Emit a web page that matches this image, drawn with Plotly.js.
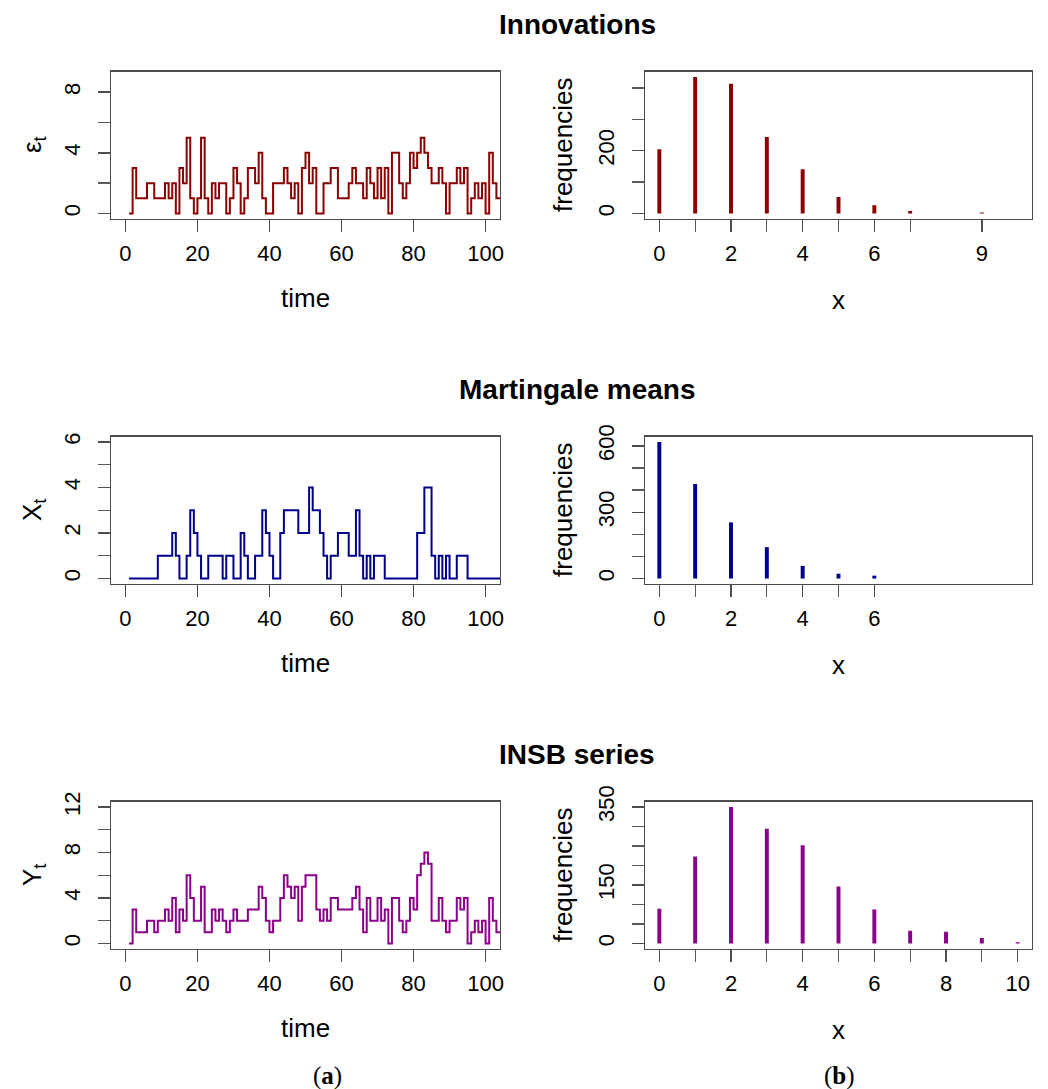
<!DOCTYPE html>
<html>
<head>
<meta charset="utf-8">
<script src="https://cdn.plot.ly/plotly-3.0.1.min.js"></script>
<style>
  html, body { margin: 0; padding: 0; background: #fff; }
  #chart { width: 1048px; height: 1089px; }
</style>
</head>
<body>
<div id="chart"></div>
<script>
// Time index for the simulated paths (the axes show 0..100)
const time = [];
for (let t = 1; t <= 105; t++) time.push(t);

// Innovations eps_t
const innovations = [
  0, 3, 1, 1, 1, 2, 2, 1, 1, 1,
  2, 1, 2, 0, 3, 2, 5, 1, 0, 1,
  5, 1, 0, 2, 1, 2, 2, 0, 1, 3,
  2, 0, 1, 3, 3, 2, 4, 1, 0, 0,
  2, 2, 2, 3, 2, 1, 2, 0, 3, 4,
  2, 3, 0, 0, 2, 2, 3, 3, 1, 1,
  1, 2, 3, 2, 2, 1, 3, 2, 1, 3,
  1, 3, 0, 4, 4, 2, 1, 2, 4, 3,
  4, 5, 4, 3, 2, 2, 3, 2, 0, 2,
  2, 3, 2, 3, 0, 1, 2, 1, 2, 0,
  4, 2, 1, 1, 1
];

// Martingale means X_t
const martingale = [
  0, 0, 0, 0, 0, 0, 0, 0, 1, 1,
  1, 1, 2, 1, 0, 0, 1, 3, 2, 1,
  0, 0, 1, 1, 1, 1, 0, 1, 1, 0,
  0, 2, 1, 0, 0, 1, 1, 3, 2, 1,
  0, 0, 2, 3, 3, 3, 3, 2, 2, 2,
  4, 3, 3, 2, 1, 0, 1, 1, 2, 2,
  2, 1, 1, 3, 1, 0, 1, 0, 1, 1,
  1, 0, 0, 0, 0, 0, 0, 0, 0, 0,
  2, 2, 4, 4, 1, 0, 1, 0, 1, 0,
  0, 1, 1, 1, 0, 0, 0, 0, 0, 0,
  0, 0, 0, 0, 0
];

// INSB series Y_t
const insb = [
  0, 3, 1, 1, 1, 2, 2, 1, 2, 2,
  3, 2, 4, 1, 3, 2, 6, 4, 2, 2,
  5, 1, 1, 3, 2, 3, 2, 1, 2, 3,
  2, 2, 2, 3, 3, 3, 5, 4, 2, 1,
  2, 2, 4, 6, 5, 4, 5, 2, 5, 6,
  6, 6, 3, 2, 3, 2, 4, 4, 3, 3,
  3, 3, 4, 5, 3, 1, 4, 2, 2, 4,
  2, 3, 0, 4, 4, 2, 1, 2, 4, 3,
  6, 7, 8, 7, 2, 2, 4, 2, 1, 2,
  2, 4, 3, 4, 0, 1, 2, 1, 2, 0,
  4, 2, 1, 1, 1
];

// Frequency tables
const innovValues = [0, 1, 2, 3, 4, 5, 6, 7, 9];
const innovFreq   = [205, 435, 413, 244, 141, 53, 26, 8, 3];

const martValues = [0, 1, 2, 3, 4, 5, 6];
const martFreq   = [618, 428, 254, 142, 57, 22, 13];

const insbValues = [0, 1, 2, 3, 4, 5, 6, 7, 8, 9, 10];
const insbFreq   = [89, 223, 350, 294, 252, 146, 87, 33, 30, 14, 3];

// Labelled ticks and the extra unlabelled tick marks of each axis
const timeTicks = [0, 20, 40, 60, 80, 100];

const innovYTicks = [0, 4, 8];
const innovYMinor = [2, 6];
const martYTicks = [0, 2, 4, 6];
const martYMinor = [1, 3, 5];
const insbYTicks = [0, 4, 8, 12];
const insbYMinor = [2, 6, 10];

const innovXTicks = [0, 2, 4, 6, 9];
const innovXMinor = [1, 3, 5, 7];
const innovFTicks = [0, 200];
const innovFMinor = [100, 300, 400];
const martXTicks = [0, 2, 4, 6];
const martXMinor = [1, 3, 5];
const martFTicks = [0, 300, 600];
const martFMinor = [100, 200, 400, 500];
const insbXTicks = [0, 2, 4, 6, 8, 10];
const insbXMinor = [1, 3, 5, 7, 9];
const insbFTicks = [0, 150, 350];
const insbFMinor = [50, 100, 200, 250, 300];

const panelTitles = ['Innovations', 'Martingale means', 'INSB series'];
const seriesNames = ['ε<sub>t</sub>', 'X<sub>t</sub>', 'Y<sub>t</sub>'];
const colors = ['#8B0000', '#00008B', '#8B008B'];

// ---- layout geometry (pixels) ----
const W = 1048, H = 1089;
const px = v => v / W;
const py = v => 1 - v / H;
const rowTop = [71.5, 436.5, 801.5];
const boxH = 147.5;
const leftCol = [111, 500];
const rightCol = [645, 1032];

const FONT = 'Liberation Sans, Arial, sans-serif';
const AXIS_COLOR = '#4d4d4d';

function baseAxis(ticks, minorTicks, minorWidth, extra) {
  return Object.assign({
    showline: true, mirror: true, linecolor: AXIS_COLOR, linewidth: 1.4,
    ticks: 'outside', ticklen: 12, tickwidth: 1.4, tickcolor: AXIS_COLOR,
    showgrid: false, zeroline: false, fixedrange: true,
    tickfont: { family: FONT, size: 22, color: '#000' },
    tickmode: 'array', tickvals: ticks, ticktext: ticks.map(String),
    minor: {
      tickmode: 'array', tickvals: minorTicks, ticks: 'outside',
      ticklen: 12, tickwidth: minorWidth, tickcolor: '#5a5a5a', showgrid: false
    }
  }, extra);
}

const series = [innovations, martingale, insb];
const freqX = [innovValues, martValues, insbValues];
const freqY = [innovFreq, martFreq, insbFreq];
const yTicks = [innovYTicks, martYTicks, insbYTicks];
const yMinor = [innovYMinor, martYMinor, insbYMinor];
const yRanges = [[-0.36, 9.36], [-0.24, 6.24], [-0.48, 12.48]];
const bxTicks = [innovXTicks, martXTicks, insbXTicks];
const bxMinor = [innovXMinor, martXMinor, insbXMinor];
const bfTicks = [innovFTicks, martFTicks, insbFTicks];
const bfMinor = [innovFMinor, martFMinor, insbFMinor];
const bfMax = [435, 618, 350];

const data = [];
const layout = {
  width: W, height: H,
  margin: { l: 0, r: 0, t: 0, b: 0 },
  paper_bgcolor: '#fff', plot_bgcolor: '#fff',
  showlegend: false,
  annotations: []
};

for (let r = 0; r < 3; r++) {
  const a = 2 * r + 1, b = 2 * r + 2;
  const sa = a === 1 ? '' : String(a);
  const sb = String(b);
  const yDom = [py(rowTop[r] + boxH), py(rowTop[r])];

  // step plot of the path
  data.push({
    type: 'scatter', mode: 'lines',
    x: time, y: series[r],
    line: { shape: 'hv', color: colors[r], width: 2 },
    xaxis: 'x' + sa, yaxis: 'y' + sa,
    hoverinfo: 'skip'
  });
  // frequency spikes
  data.push({
    type: 'bar',
    x: freqX[r], y: freqY[r],
    width: 0.11,
    marker: { color: colors[r], line: { width: 0 } },
    xaxis: 'x' + sb, yaxis: 'y' + sb,
    hoverinfo: 'skip'
  });

  layout['xaxis' + sa] = baseAxis(timeTicks, [], 1.4, {
    domain: [px(leftCol[0]), px(leftCol[1])], anchor: 'y' + sa,
    range: [-4, 104], ticklabelstandoff: 2
  });
  layout['yaxis' + sa] = baseAxis(yTicks[r], yMinor[r], 1.4, {
    domain: yDom, anchor: 'x' + sa,
    range: yRanges[r], tickangle: -90, ticklabelstandoff: 9
  });
  layout['xaxis' + sb] = baseAxis(bxTicks[r], bxMinor[r], 1.0, {
    domain: [px(rightCol[0]), px(rightCol[1])], anchor: 'y' + sb,
    range: [-0.4, 10.4], ticklabelstandoff: 2
  });
  layout['yaxis' + sb] = baseAxis(bfTicks[r], bfMinor[r], 1.4, {
    domain: yDom, anchor: 'x' + sb,
    range: [-0.04 * bfMax[r], 1.04 * bfMax[r]],
    tickangle: -90, ticklabelstandoff: 9
  });

  const off = 365 * r;
  // panel title
  layout.annotations.push({
    xref: 'paper', yref: 'paper', x: px(577), y: py(24 + off),
    xanchor: 'center', yanchor: 'middle', showarrow: false,
    text: '<b>' + panelTitles[r] + '</b>',
    font: { family: FONT, size: 28, color: '#000' }
  });
  // axis titles
  layout.annotations.push({
    xref: 'paper', yref: 'paper', x: px(305.5), y: py(298 + off),
    xanchor: 'center', yanchor: 'middle', showarrow: false,
    text: 'time', font: { family: FONT, size: 26, color: '#000' }
  });
  layout.annotations.push({
    xref: 'paper', yref: 'paper', x: px(838.5), y: py(300 + off),
    xanchor: 'center', yanchor: 'middle', showarrow: false,
    text: 'x', font: { family: FONT, size: 26, color: '#000' }
  });
  layout.annotations.push({
    xref: 'paper', yref: 'paper', x: px(33), y: py(145 + off),
    xanchor: 'center', yanchor: 'middle', showarrow: false, textangle: -90,
    text: seriesNames[r], font: { family: FONT, size: 26, color: '#000' }
  });
  layout.annotations.push({
    xref: 'paper', yref: 'paper', x: px(563), y: py(145 + off),
    xanchor: 'center', yanchor: 'middle', showarrow: false, textangle: -90,
    text: 'frequencies', font: { family: FONT, size: 26, color: '#000' }
  });
}

// sub-figure labels
[['(<b>a</b>)', 327], ['(<b>b</b>)', 839]].forEach(([t, x]) => {
  layout.annotations.push({
    xref: 'paper', yref: 'paper', x: px(x), y: py(1076),
    xanchor: 'center', yanchor: 'middle', showarrow: false,
    text: t, font: { family: 'Liberation Serif, DejaVu Serif, serif', size: 25, color: '#000' }
  });
});

Plotly.newPlot('chart', data, layout, { staticPlot: true, displayModeBar: false });
</script>
</body>
</html>
